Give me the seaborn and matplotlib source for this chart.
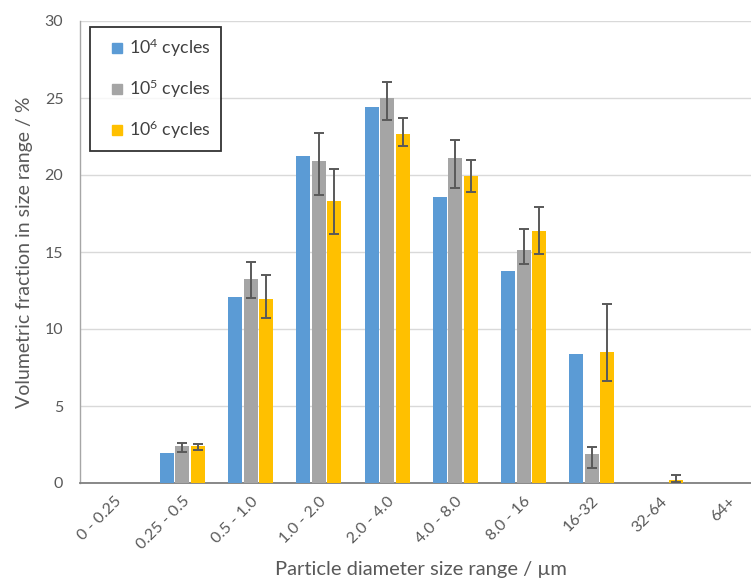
import numpy as np
import pandas as pd
import matplotlib
matplotlib.use("Agg")
import matplotlib.pyplot as plt
from matplotlib.lines import Line2D
import seaborn as sns

# Size ranges (µm) and volumetric fractions (%) for each cycle count
categories = ["0 - 0.25", "0.25 - 0.5", "0.5 - 1.0", "1.0 - 2.0", "2.0 - 4.0",
              "4.0 - 8.0", "8.0 - 16", "16-32", "32-64", "64+"]
series_names = ["10$^{4}$ cycles", "10$^{5}$ cycles", "10$^{6}$ cycles"]

vals_1e4 = [0.0, 1.98, 12.07, 21.26, 24.43, 18.60, 13.74, 8.35, 0.0, 0.0]
vals_1e5 = [0.0, 2.39, 13.24, 20.89, 24.97, 21.13, 15.13, 1.88, 0.0, 0.0]
vals_1e6 = [0.0, 2.39, 11.93, 18.30, 22.65, 19.93, 16.39, 8.52, 0.22, 0.0]

# Error bar extents (lower, upper) -- none for the 10^4 series
err_lo_1e5 = [np.nan, 0.35, 1.20, 2.20, 1.40, 1.95, 0.90, 0.90, np.nan, np.nan]
err_hi_1e5 = [np.nan, 0.18, 1.13, 1.84, 1.05, 1.15, 1.39, 0.45, np.nan, np.nan]
err_lo_1e6 = [np.nan, 0.22, 1.23, 2.11, 0.79, 1.06, 1.54, 1.91, 0.18, np.nan]
err_hi_1e6 = [np.nan, 0.13, 1.55, 2.09, 1.08, 1.04, 1.52, 3.13, 0.30, np.nan]

colors = ["#5B9BD5", "#A5A5A5", "#FFC000"]

df = pd.DataFrame({
    "range": categories * 3,
    "value": vals_1e4 + vals_1e5 + vals_1e6,
    "series": [series_names[0]] * 10 + [series_names[1]] * 10 + [series_names[2]] * 10,
})

sns.set_theme(style="white")
plt.rcParams["font.family"] = ["Lato", "DejaVu Sans"]
plt.rcParams["mathtext.fontset"] = "custom"
plt.rcParams["mathtext.rm"] = "Lato"
plt.rcParams["mathtext.it"] = "Lato:italic"
plt.rcParams["mathtext.bf"] = "Lato:bold"

fig = plt.figure(figsize=(7.51, 5.78), dpi=100)
ax = fig.add_axes([80 / 751, 95 / 578, 682.5 / 751, 462 / 578])

sns.barplot(data=df, x="range", y="value", hue="series", order=categories,
            hue_order=series_names, palette=colors, width=0.68, gap=0.1,
            errorbar=None, saturation=1, ax=ax, zorder=3, legend=False,
            linewidth=0)

# Error bars at the centre of each bar
err_sets = [None, (err_lo_1e5, err_hi_1e5), (err_lo_1e6, err_hi_1e6)]
for cont, errs, vals in zip(ax.containers, err_sets, [vals_1e4, vals_1e5, vals_1e6]):
    if errs is None:
        continue
    lo, hi = errs
    for bar, v, l, h in zip(cont.patches, vals, lo, hi):
        if np.isnan(l):
            continue
        xc = bar.get_x() + bar.get_width() / 2
        ax.errorbar(xc, v, yerr=[[l], [h]], fmt="none", ecolor="#595959",
                    elinewidth=1.4, capsize=3.5, capthick=1.4, zorder=4)

ax.set_ylim(0, 30)
ax.set_yticks(range(0, 31, 5))
ax.set_xlim(-0.5, len(categories) - 0.5)
ax.yaxis.grid(True, color="#D9D9D9", linewidth=1.0, zorder=0)
ax.set_axisbelow(True)

# Tick marks sit on category boundaries
ax.set_xticks(np.arange(len(categories)))
ax.set_xticklabels(categories, rotation=45, ha="right", rotation_mode="anchor",
                   fontsize=11.5, color="#595959")
ax.set_xticks(np.arange(len(categories) + 1) - 0.5, minor=True)
ax.tick_params(axis="x", which="major", length=0, pad=8)
ax.tick_params(axis="x", which="minor", direction="inout", length=8,
               width=1.2, color="#7F7F7F")
ax.tick_params(axis="y", length=0, labelsize=11.5, labelcolor="#595959", pad=12)

for side in ["top", "right"]:
    ax.spines[side].set_visible(False)
ax.spines["left"].set_color("#A6A6A6")
ax.spines["left"].set_linewidth(1.0)
ax.spines["bottom"].set_color("#7F7F7F")
ax.spines["bottom"].set_linewidth(1.3)
ax.spines["bottom"].set_zorder(2.5)

ax.set_xlabel("Particle diameter size range / µm", fontsize=14.5, color="#595959",
              labelpad=6)
ax.set_ylabel("Volumetric fraction in size range / %", fontsize=14,
              color="#595959", labelpad=8)

handles = [Line2D([], [], linestyle="none", marker="s", markersize=7.5,
                  markerfacecolor=c, markeredgecolor=c) for c in colors]
leg = ax.legend(handles, series_names, loc="upper left",
                bbox_to_anchor=(0.0147, 0.987), borderaxespad=0, frameon=True,
                fancybox=False, fontsize=12.8, handlelength=1.9,
                handletextpad=-0.25, labelspacing=1.05, borderpad=0.55)
leg.get_frame().set_edgecolor("black")
leg.get_frame().set_linewidth(1.3)
for t in leg.get_texts():
    t.set_color("#404040")

fig.savefig("out.png", dpi=100)
